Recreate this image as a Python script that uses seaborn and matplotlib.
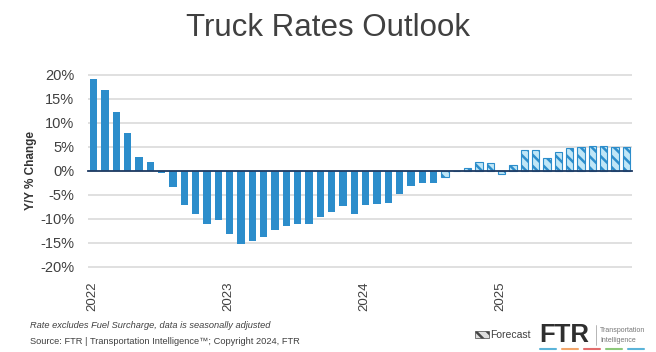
import numpy as np
import pandas as pd
import matplotlib
matplotlib.use("Agg")
import matplotlib.pyplot as plt
import matplotlib.patches as mpatches
from matplotlib.lines import Line2D
import seaborn as sns

# monthly y/y change in truck rates, Jan 2022 - Dec 2025 (%)
values = [
    19.2, 16.9, 12.2, 7.9, 2.9, 1.9, -0.5, -3.3, -7.1, -9.0, -11.0, -10.2,
    -13.2, -15.2, -14.5, -13.7, -12.3, -11.4, -11.1, -11.0, -9.5, -8.6, -7.3, -9.0,
    -7.0, -6.8, -6.7, -4.7, -3.2, -2.5, -2.5, -1.3, 0.05, 0.7, 1.8, 1.6,
    -0.7, 1.3, 4.3, 4.3, 2.7, 4.0, 4.7, 5.0, 5.3, 5.2, 5.0, 4.9,
]
years = ["2022", "2023", "2024", "2025"]
first_forecast = 31  # Aug 2024 onward is forecast
yticks = [20, 15, 10, 5, 0, -5, -10, -15, -20]

months = pd.date_range("2022-01-01", periods=len(values), freq="MS")
df = pd.DataFrame({"month": months.strftime("%Y-%m"), "change": values})
df["forecast"] = np.arange(len(df)) >= first_forecast

BLUE = "#2C8DCB"
LIGHT = "#BFE6F7"
TEXT = "#404040"

sns.set_style("white")
plt.rcParams["font.family"] = ["Liberation Sans", "DejaVu Sans"]
plt.rcParams["hatch.linewidth"] = 1.8

fig = plt.figure(figsize=(6.56, 3.52), dpi=100)
ax = fig.add_axes([88 / 656, 1 - 271.8 / 352, 544 / 656, 201.6 / 352])

sns.barplot(data=df, x="month", y="change", color=BLUE, width=0.62,
            saturation=1, ax=ax)
for patch, fc in zip(ax.patches, df["forecast"]):
    if fc:
        patch.set_facecolor(LIGHT)
        patch.set_edgecolor(BLUE)
        patch.set_hatch("\\\\\\")
        patch.set_linewidth(0.8)
    else:
        patch.set_linewidth(0)

ax.set_xlim(-0.5, len(df) - 0.5)
ax.set_ylim(-21, 21)
ax.set_yticks(yticks)
ax.set_yticklabels([f"{v}%" for v in yticks], color=TEXT, fontsize=10.5)
ax.tick_params(axis="y", length=0, pad=10)
ax.grid(axis="y", color="#DADADA", linewidth=1.2)
ax.set_axisbelow(True)
for s in ["top", "right", "left"]:
    ax.spines[s].set_visible(False)

# zero line with year ticks
ax.spines["bottom"].set_position(("data", 0))
ax.spines["bottom"].set_color("#1F3B63")
ax.spines["bottom"].set_linewidth(1.3)
year_pos = [i * 12 - 0.5 for i in range(len(years) + 1)]
ax.set_xticks(year_pos)
ax.set_xticklabels([])
ax.tick_params(axis="x", direction="inout", length=7, width=1.2,
               color="#1F3B63", labelbottom=False)
for pos, yr in zip(year_pos, years):
    ax.text(pos + 0.4, -0.05, yr, transform=ax.get_xaxis_transform(),
            rotation=90, ha="center", va="top", fontsize=9.5, color=TEXT)

ax.set_xlabel("")
ax.set_ylabel("Y/Y % Change", fontsize=8.5, fontweight="bold", color="#333333")
ax.yaxis.set_label_coords(-0.093, 0.5)

fig.text(0.5, 0.92, "Truck Rates Outlook", ha="center", va="center",
         fontsize=22.5, color=TEXT)

fig.text(30 / 656, 1 - 326 / 352, "Rate excludes Fuel Surcharge, data is seasonally adjusted",
         fontsize=6.7, style="italic", color=TEXT, va="center")
fig.text(30 / 656, 1 - 342 / 352,
         "Source: FTR | Transportation Intelligence\u2122; Copyright 2024, FTR",
         fontsize=6.7, color=TEXT, va="center")

# forecast key
handle = mpatches.Patch(facecolor="#DDDDDD", edgecolor="#444444", hatch="\\\\\\",
                        linewidth=0.5, label="Forecast")
fig.legend(handles=[handle], loc="center left", bbox_to_anchor=(470 / 656, 1 - 335 / 352),
           frameon=False, fontsize=7.5, handlelength=1.3, handleheight=0.6,
           handletextpad=0.15, borderpad=0, labelcolor=TEXT)

# FTR logo
fig.text(539 / 656, 1 - 335 / 352, "FTR", fontsize=18.5, fontweight="bold",
         color="#2F2F2F", va="center", ha="left")
fig.add_artist(Line2D([596 / 656, 596 / 656], [1 - 325 / 352, 1 - 345 / 352],
                      color="#AAAAAA", linewidth=0.6))
fig.text(600 / 656, 1 - 330 / 352, "Transportation", fontsize=5, color="#777777", va="center")
fig.text(600 / 656, 1 - 340 / 352, "Intelligence", fontsize=5, color="#777777", va="center")
dash_colors = ["#5BB4D9", "#F2A66B", "#E36C6C", "#8CC97A", "#5BB4D9"]
for i, c in enumerate(dash_colors):
    x0 = (540 + i * 22) / 656
    fig.add_artist(Line2D([x0, x0 + 16 / 656], [1 - 349 / 352] * 2, color=c, linewidth=1.5))

fig.savefig("out.png", dpi=100)
